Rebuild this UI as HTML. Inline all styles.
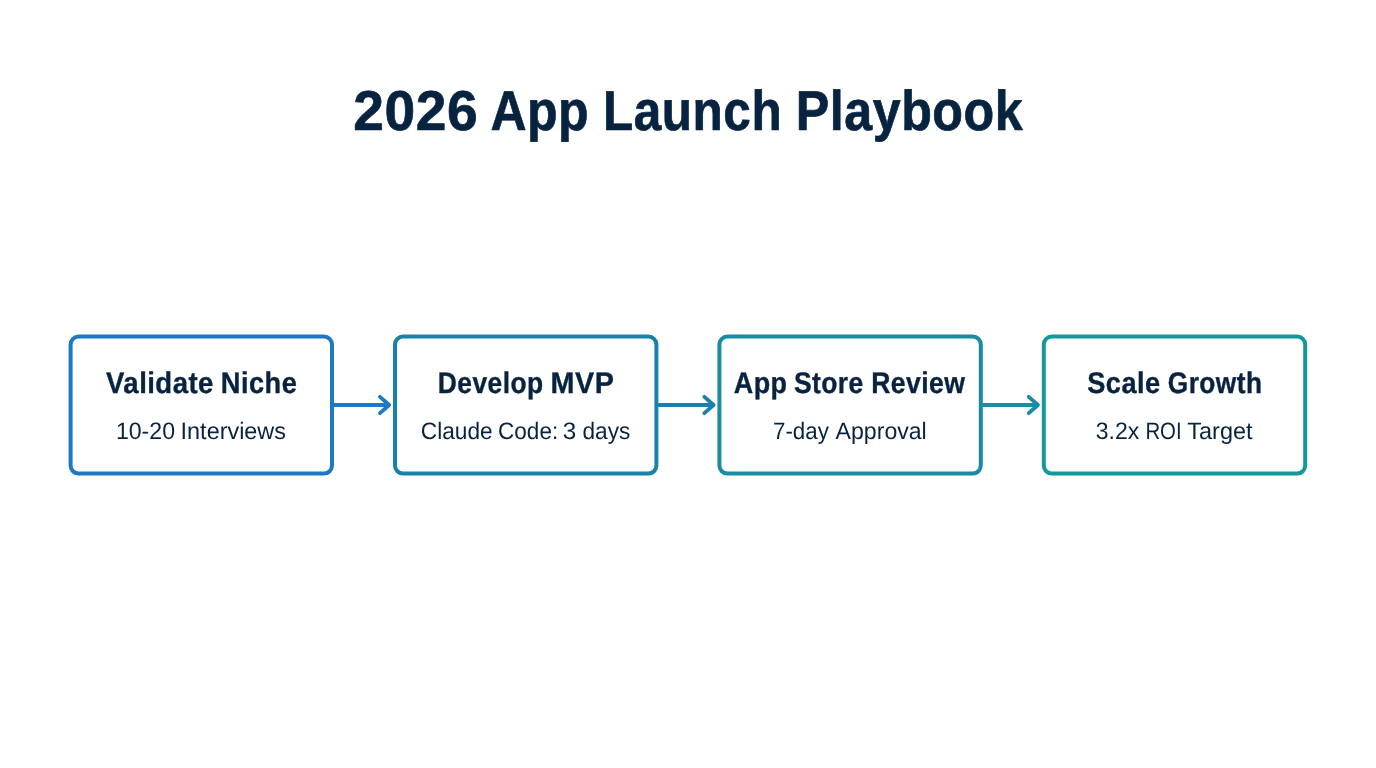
<!DOCTYPE html>
<html>
<head>
<meta charset="utf-8">
<title>2026 App Launch Playbook</title>
<style>
html, body { margin: 0; padding: 0; background: #ffffff; }
body { width: 1376px; height: 768px; overflow: hidden; }
svg { display: block; will-change: transform; }
text { font-family: "Liberation Sans", sans-serif; }
</style>
</head>
<body>
<svg width="1376" height="768" viewBox="0 0 1376 768" text-rendering="geometricPrecision">
<rect x="0" y="0" width="1376" height="768" fill="#ffffff"/>
<rect x="70.60" y="336.60" width="261.40" height="137.00" rx="8.0" fill="none" stroke="#1f78c4" stroke-width="4"/>
<g fill="none" stroke="#1f78c4" stroke-width="3.8" stroke-linecap="round" stroke-linejoin="round"><line x1="333.00" y1="405" x2="388.20" y2="405"/><polyline points="379.95,396.80 389.20,405 379.95,413.20"/></g>
<rect x="395.00" y="336.60" width="261.40" height="137.00" rx="8.0" fill="none" stroke="#1b81ab" stroke-width="4"/>
<g fill="none" stroke="#1b81ab" stroke-width="3.8" stroke-linecap="round" stroke-linejoin="round"><line x1="657.40" y1="405" x2="712.60" y2="405"/><polyline points="704.35,396.80 713.60,405 704.35,413.20"/></g>
<rect x="719.40" y="336.60" width="261.40" height="137.00" rx="8.0" fill="none" stroke="#1b8ba4" stroke-width="4"/>
<g fill="none" stroke="#1b8ba4" stroke-width="3.8" stroke-linecap="round" stroke-linejoin="round"><line x1="981.80" y1="405" x2="1037.00" y2="405"/><polyline points="1028.75,396.80 1038.00,405 1028.75,413.20"/></g>
<rect x="1043.80" y="336.60" width="261.40" height="137.00" rx="8.0" fill="none" stroke="#13989c" stroke-width="4"/>
<text x="353.29" y="129.65" font-weight="bold" font-size="56.1" letter-spacing="0.6" fill="#072340" stroke="#072340" stroke-width="0.7" stroke-linejoin="round" textLength="125.07" lengthAdjust="spacingAndGlyphs">2026</text>
<text x="490.40" y="129.65" font-weight="bold" font-size="56.1" letter-spacing="0.6" fill="#072340" stroke="#072340" stroke-width="0.7" stroke-linejoin="round" textLength="98.81" lengthAdjust="spacingAndGlyphs">App</text>
<text x="602.99" y="129.65" font-weight="bold" font-size="56.1" letter-spacing="0.6" fill="#072340" stroke="#072340" stroke-width="0.7" stroke-linejoin="round" textLength="179.21" lengthAdjust="spacingAndGlyphs">Launch</text>
<text x="795.63" y="129.65" font-weight="bold" font-size="56.1" letter-spacing="0.6" fill="#072340" stroke="#072340" stroke-width="0.7" stroke-linejoin="round" textLength="227.70" lengthAdjust="spacingAndGlyphs">Playbook</text>
<text x="115.89" y="439.1" font-size="23.8" fill="#072340" textLength="59.20" lengthAdjust="spacingAndGlyphs">10-20</text>
<text x="180.60" y="439.1" font-size="23.8" fill="#072340" textLength="105.40" lengthAdjust="spacingAndGlyphs">Interviews</text>
<text x="420.78" y="439.1" font-size="23.8" fill="#072340" textLength="71.91" lengthAdjust="spacingAndGlyphs">Claude</text>
<text x="498.10" y="439.1" font-size="23.8" fill="#072340" textLength="60.08" lengthAdjust="spacingAndGlyphs">Code:</text>
<text x="562.79" y="439.1" font-size="23.8" fill="#072340" textLength="13.49" lengthAdjust="spacingAndGlyphs">3</text>
<text x="582.52" y="439.1" font-size="23.8" fill="#072340" textLength="47.88" lengthAdjust="spacingAndGlyphs">days</text>
<text x="773.02" y="439.1" font-size="23.8" fill="#072340" textLength="55.85" lengthAdjust="spacingAndGlyphs">7-day</text>
<text x="835.61" y="439.1" font-size="23.8" fill="#072340" textLength="91.13" lengthAdjust="spacingAndGlyphs">Approval</text>
<text x="1095.80" y="439.1" font-size="23.8" fill="#072340" textLength="43.52" lengthAdjust="spacingAndGlyphs">3.2x</text>
<text x="1145.38" y="439.1" font-size="23.8" fill="#072340" textLength="36.24" lengthAdjust="spacingAndGlyphs">ROI</text>
<text x="1187.27" y="439.1" font-size="23.8" fill="#072340" textLength="65.30" lengthAdjust="spacingAndGlyphs">Target</text>
<text x="106.03" y="393.0" font-weight="bold" font-size="29.9" letter-spacing="0.5" fill="#072340" stroke="#072340" stroke-width="0.35" stroke-linejoin="round" textLength="107.86" lengthAdjust="spacingAndGlyphs">Validate</text>
<text x="220.82" y="393.0" font-weight="bold" font-size="29.9" letter-spacing="0.5" fill="#072340" stroke="#072340" stroke-width="0.35" stroke-linejoin="round" textLength="76.47" lengthAdjust="spacingAndGlyphs">Niche</text>
<text x="437.76" y="393.0" font-weight="bold" font-size="29.9" letter-spacing="0.5" fill="#072340" stroke="#072340" stroke-width="0.35" stroke-linejoin="round" textLength="105.80" lengthAdjust="spacingAndGlyphs">Develop</text>
<text x="550.61" y="393.0" font-weight="bold" font-size="29.9" letter-spacing="0.5" fill="#072340" stroke="#072340" stroke-width="0.35" stroke-linejoin="round" textLength="63.77" lengthAdjust="spacingAndGlyphs">MVP</text>
<text x="733.79" y="393.0" font-weight="bold" font-size="29.9" letter-spacing="0.5" fill="#072340" stroke="#072340" stroke-width="0.35" stroke-linejoin="round" textLength="53.68" lengthAdjust="spacingAndGlyphs">App</text>
<text x="793.90" y="393.0" font-weight="bold" font-size="29.9" letter-spacing="0.5" fill="#072340" stroke="#072340" stroke-width="0.35" stroke-linejoin="round" textLength="69.88" lengthAdjust="spacingAndGlyphs">Store</text>
<text x="871.14" y="393.0" font-weight="bold" font-size="29.9" letter-spacing="0.5" fill="#072340" stroke="#072340" stroke-width="0.35" stroke-linejoin="round" textLength="94.20" lengthAdjust="spacingAndGlyphs">Review</text>
<text x="1087.23" y="393.0" font-weight="bold" font-size="29.9" letter-spacing="0.5" fill="#072340" stroke="#072340" stroke-width="0.35" stroke-linejoin="round" textLength="73.42" lengthAdjust="spacingAndGlyphs">Scale</text>
<text x="1167.84" y="393.0" font-weight="bold" font-size="29.9" letter-spacing="0.5" fill="#072340" stroke="#072340" stroke-width="0.35" stroke-linejoin="round" textLength="94.57" lengthAdjust="spacingAndGlyphs">Growth</text>
</svg>
</body>
</html>
